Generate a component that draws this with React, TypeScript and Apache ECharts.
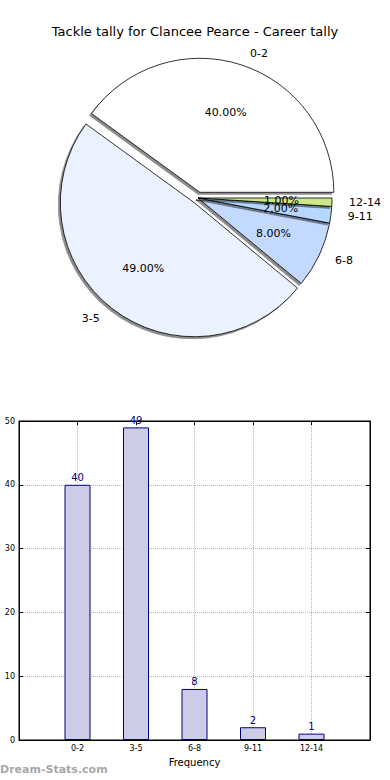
import React, { useEffect, useRef } from "react";
import * as echarts from "echarts";

const title = "Tackle tally for Clancee Pearce - Career tally";
const categories = ["0-2", "3-5", "6-8", "9-11", "12-14"];
const values = [40, 49, 8, 2, 1];
const pieColors = ["#ffffff", "#ebf2ff", "#c4d9ff", "#b6d8ff", "#cce88a"];
const exploded = [true, true, false, false, false];
const yMin = 0;
const yMax = 50;
const yInterval = 10;
const xAxisName = "Frequency";
const watermark = "Dream-Stats.com";

const FONT = "DejaVu Sans";

export default function App() {
  const ref = useRef<HTMLDivElement>(null);
  useEffect(() => {
    if (!ref.current) return;
    const chart = echarts.init(ref.current, undefined, { renderer: "svg" });
    const pieData = categories.map((c, i) => ({
      name: c,
      value: values[i],
      selected: exploded[i],
      itemStyle: { color: pieColors[i] },
    }));
    const pieCenter = [198, 198];
    const pieR = 134;
    const tickStyle = { show: true, inside: true, length: 4, lineStyle: { color: "#000" } };
    chart.setOption({
      animation: false,
      backgroundColor: "#ffffff",
      textStyle: { fontFamily: FONT },
      title: {
        text: title,
        left: "center",
        top: 20,
        textStyle: { fontFamily: FONT, fontSize: 13, fontWeight: "normal", color: "#000" },
      },
      graphic: [
        {
          type: "text",
          left: 0,
          top: 764,
          style: { text: watermark, fontFamily: FONT, fontSize: 11, fontWeight: "bold", fill: "#a8a8a8" },
        },
      ],
      grid: {
        left: 19,
        right: 20,
        top: 421,
        bottom: 40,
        show: true,
        borderColor: "#000",
        borderWidth: 1,
        containLabel: false,
      },
      xAxis: [
        {
          type: "value",
          min: -1,
          max: categories.length,
          interval: 1,
          name: xAxisName,
          nameLocation: "middle",
          nameGap: 17,
          nameTextStyle: { fontFamily: FONT, fontSize: 10, color: "#000" },
          axisLine: { show: true, onZero: false, lineStyle: { color: "#000" } },
          axisTick: tickStyle,
          axisLabel: {
            fontFamily: FONT,
            fontSize: 8,
            color: "#000",
            margin: 4,
            formatter: (v: number) => (v >= 0 && v < categories.length ? categories[v] : ""),
          },
          splitLine: { show: true, lineStyle: { color: "#b8b8b8", type: "dotted", width: 1 } },
        },
        {
          type: "value",
          position: "top",
          min: -1,
          max: categories.length,
          interval: 1,
          axisLine: { show: true, onZero: false, lineStyle: { color: "#000" } },
          axisTick: tickStyle,
          axisLabel: { show: false },
          splitLine: { show: false },
        },
      ],
      yAxis: [
        {
          type: "value",
          min: yMin,
          max: yMax,
          interval: yInterval,
          axisLine: { show: true, onZero: false, lineStyle: { color: "#000" } },
          axisTick: tickStyle,
          axisLabel: { fontFamily: FONT, fontSize: 8, color: "#000", margin: 4 },
          splitLine: { show: true, lineStyle: { color: "#b8b8b8", type: "dotted", width: 1 } },
        },
        {
          type: "value",
          position: "right",
          min: yMin,
          max: yMax,
          interval: yInterval,
          axisLine: { show: true, onZero: false, lineStyle: { color: "#000" } },
          axisTick: tickStyle,
          axisLabel: { show: false },
          splitLine: { show: false },
        },
      ],
      series: [
        {
          type: "pie",
          center: pieCenter,
          radius: pieR,
          startAngle: 0,
          clockwise: false,
          selectedMode: "multiple",
          selectedOffset: 6,
          avoidLabelOverlap: true,
          minShowLabelAngle: 0,
          silent: true,
          emphasis: { disabled: true },
          itemStyle: {
            borderColor: "#000",
            borderWidth: 0.8,
            shadowColor: "rgba(0,0,0,0.45)",
            shadowBlur: 0,
            shadowOffsetX: -2,
            shadowOffsetY: 2,
          },
          label: {
            show: true,
            position: "outside",
            formatter: "{b}",
            fontFamily: FONT,
            fontSize: 11,
            color: "#000",
            overflow: "none",
            bleedMargin: 0,
          },
          labelLine: { show: false, length: 12, length2: 0 },
          data: pieData,
        },
        {
          type: "pie",
          center: pieCenter,
          radius: [pieR * 0.2, pieR],
          startAngle: 0,
          clockwise: false,
          selectedMode: "multiple",
          selectedOffset: 6,
          avoidLabelOverlap: false,
          minShowLabelAngle: 0,
          labelLayout: { hideOverlap: false },
          silent: true,
          emphasis: { disabled: true },
          itemStyle: { color: "rgba(0,0,0,0)", borderWidth: 0 },
          label: {
            show: true,
            position: "inside",
            formatter: (p: any) => p.percent.toFixed(2) + "%",
            fontFamily: FONT,
            fontSize: 11,
            color: "#000",
            overflow: "none",
          },
          labelLine: { show: false },
          data: pieData.map((d) => ({ ...d, itemStyle: { color: "rgba(0,0,0,0)" } })),
        },
        {
          type: "bar",
          barWidth: 26,
          itemStyle: { color: "#ccccE6", borderColor: "#000080", borderWidth: 1 },
          label: {
            show: true,
            position: "top",
            distance: 2,
            fontFamily: FONT,
            fontSize: 10,
            color: "#000080",
          },
          emphasis: { disabled: true },
          data: categories.map((c, i) => [i, values[i]]),
        },
      ],
    });
    return () => chart.dispose();
  }, []);
  return (
    <div
      ref={ref}
      style={{ position: "absolute", left: 0, top: 0, width: 390, height: 780 }}
    />
  );
}
